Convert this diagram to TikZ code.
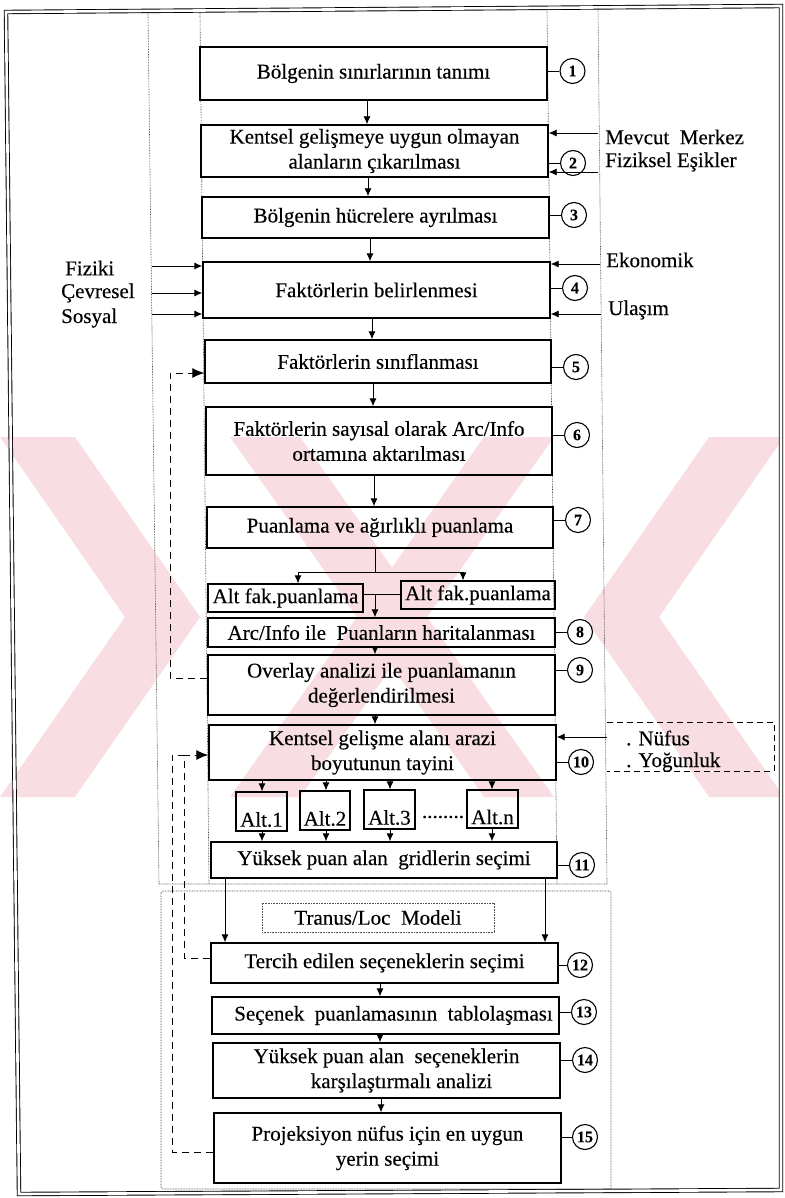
\documentclass[tikz,border=0pt]{standalone}
\usepackage{fontspec}
\setmainfont[FakeBold=0.3]{Liberation Serif}
\usetikzlibrary{arrows.meta}
\definecolor{wmark}{RGB}{248,222,226}
\newcommand\bodyfont{\fontsize{21}{25}\selectfont}
\newcommand\numfont{\fontsize{16}{16}\selectfont\bfseries}
\begin{document}
\begin{tikzpicture}[x=1pt,y=-1pt,
  stepbox/.style={draw, line width=1.4pt, inner sep=0pt, align=center, font=\bodyfont},
  altbox/.style={draw, line width=1.2pt, inner sep=0pt, minimum width=51pt, minimum height=39pt, font=\bodyfont},
  numc/.style={circle, draw, line width=1.1pt, minimum size=25pt, inner sep=0pt, font=\numfont},
  lbl/.style={inner sep=0pt, anchor=west, font=\bodyfont},
  arr/.style={line width=0.9pt, -{Latex[length=8pt,width=7pt]}},
  link/.style={line width=0.9pt},
  guide/.style={line width=0.6pt, black!70, dash pattern=on 0.8pt off 0.8pt},
  fback/.style={line width=1pt, dash pattern=on 7pt off 5pt},
  fbarrow/.style={-{Latex[length=12pt,width=10pt]}},
]
\useasboundingbox (0,0) rectangle (784,1198);
\fill[white] (0,0) rectangle (784,1198);

% faint background emblem
\fill[wmark] (0,437) -- (75,437) -- (200,617) -- (75,797) -- (0,797) -- (125,617) -- cycle;
\fill[wmark] (784,437) -- (709,437) -- (584,617) -- (709,797) -- (784,797) -- (659,617) -- cycle;
\fill[wmark] (230,437) -- (300,437) -- (554,797) -- (484,797) -- cycle;
\fill[wmark] (554,437) -- (484,437) -- (230,797) -- (300,797) -- cycle;

% page frame (double rule)
\draw[line width=0.9pt, double, double distance=2.6pt] (6,12) -- (781,6) -- (781,1190) -- (19,1194) -- cycle;

% dotted column guides of the upper part and the lower model frame
\draw[guide] (148,14) -- (159,884) -- (607,884) -- (598,8);
\draw[guide] (200,13) -- (209,884);
\draw[guide] (547,9) -- (557,884);
\draw[guide, rounded corners=2pt] (161,891) rectangle (611,1189);

% main steps
\node[stepbox, minimum width=347pt, minimum height=53pt] (b1) at (373.5,73.5) {Bölgenin sınırlarının tanımı};
\node[stepbox, minimum width=347pt, minimum height=52pt] (b2) at (374.5,151) {Kentsel gelişmeye uygun olmayan\\alanların çıkarılması};
\node[stepbox, minimum width=347pt, minimum height=41pt] (b3) at (375.5,217.5) {Bölgenin hücrelere ayrılması};
\node[stepbox, minimum width=347pt, minimum height=56pt] (b4) at (376.5,290) {Faktörlerin belirlenmesi};
\node[stepbox, minimum width=346pt, minimum height=43pt] (b5) at (378,361.5) {Faktörlerin sınıflanması};
\node[stepbox, minimum width=346pt, minimum height=68pt] (b6) at (379,441) {Faktörlerin sayısal olarak Arc/Info\\ortamına aktarılması};
\node[stepbox, minimum width=346pt, minimum height=41pt] (b7) at (380,527.5) {Puanlama ve ağırlıklı puanlama};
\node[stepbox, line width=1.2pt, minimum width=155pt, minimum height=28pt] (af1) at (285.5,598) {Alt fak.puanlama};
\node[stepbox, line width=1.2pt, minimum width=154pt, minimum height=28pt] (af2) at (478,595) {Alt fak.puanlama};
\node[stepbox, minimum width=347pt, minimum height=29pt] (b8) at (381.5,632.5) {Arc/Info ile~ Puanların haritalanması};
\node[stepbox, minimum width=347pt, minimum height=60pt] (b9) at (381.5,685) {Overlay analizi ile puanlamanın\\değerlendirilmesi};
\node[stepbox, minimum width=347pt, minimum height=55pt] (b10) at (382.5,752.5) {Kentsel gelişme alanı arazi\\boyutunun tayini};
\node[altbox] (a1) at (261.5,811.5) {\raisebox{-8pt}[\height][\depth]{Alt.1}};
\node[altbox, minimum width=50pt] (a2) at (325,810.5) {\raisebox{-8pt}[\height][\depth]{Alt.2}};
\node[altbox] (a3) at (389.5,809.5) {\raisebox{-8pt}[\height][\depth]{Alt.3}};
\node[altbox, minimum height=38pt] (an) at (492.5,809) {\raisebox{-8pt}[\height][\depth]{Alt.n}};
\node[inner sep=0pt, font=\bodyfont] (dots) at (443,817) {........};
\node[stepbox, minimum width=346pt, minimum height=36pt] (b11) at (384,860) {Yüksek puan alan~ gridlerin seçimi};
\node[draw, guide, inner sep=0pt, minimum width=232pt, minimum height=29pt, font=\bodyfont, text=black] (tr) at (378,917.5) {Tranus/Loc~ Modeli};
\node[stepbox, minimum width=347pt, minimum height=40pt] (b12) at (384.5,963) {Tercih edilen seçeneklerin seçimi};
\node[stepbox, minimum width=347pt, minimum height=37pt] (b13) at (385.5,1015.5) {\hspace*{16pt}Seçenek~ puanlamasının~ tablolaşması};
\node[stepbox, minimum width=347pt, minimum height=55pt] (b14) at (386.5,1070.5) {Yüksek puan alan~ seçeneklerin\\\hspace*{30pt}karşılaştırmalı analizi};
\node[stepbox, minimum width=347pt, minimum height=70pt] (b15) at (387.5,1148) {Projeksiyon nüfus için en uygun\\yerin seçimi};

% step numbers
\foreach \b/\x/\y/\t in {b1/572.5/71/1, b2/573/163/2, b3/574/215/3, b4/575/288/4, b5/576/367/5,
  b6/577/435/6, b7/578/520/7, b8/580/632/8, b9/580/670/9, b10/581/762/10, b11/582/865/11,
  b12/580/965/12, b13/584/1012/13, b14/585/1060/14, b15/585/1137/15} {
  \node[numc] (n\t) at (\x,\y) {\t};
  \draw[link] (n\t.west) -- (n\t.west -| \b.east);
}

% main flow
\draw[arr] (367,0 |- b1.south) -- (367,0 |- b2.north);
\draw[arr] (368,0 |- b2.south) -- (368,0 |- b3.north);
\draw[arr] (370,0 |- b3.south) -- (370,0 |- b4.north);
\draw[arr] (372,0 |- b4.south) -- (372,0 |- b5.north);
\draw[arr] (373,0 |- b5.south) -- (373,0 |- b6.north);
\draw[arr] (374,0 |- b6.south) -- (374,0 |- b7.north);
\coordinate (jc) at (375,572);
\coordinate (jl) at (298,572);
\coordinate (jr) at (463,572);
\draw[link] (375,0 |- b7.south) -- (jc);
\draw[link] (jl) -- (jr);
\draw[arr] (jl) -- (jl |- af1.north);
\draw[arr] (jr) -- (jr |- af2.north);
\coordinate (jm) at (375,594);
\draw[link] (af1.east |- jm) -- (af2.west |- jm);
\draw[arr] (jm) -- (jm |- b8.north);
\draw[arr] (375,0 |- b8.south) -- (375,0 |- b9.north);
\draw[arr] (375,0 |- b9.south) -- (375,0 |- b10.north);
\foreach \a/\x in {a1/262, a2/326, a3/390, an/492} {
  \draw[arr] (\x,0 |- b10.south) -- (\x,0 |- \a.north);
  \draw[arr] (\x,0 |- \a.south) -- (\x,0 |- b11.north);
}
\draw[arr] (225,0 |- b11.south) -- (225,0 |- b12.north);
\draw[arr] (545,0 |- b11.south) -- (545,0 |- b12.north);
\draw[arr] (380,0 |- b12.south) -- (380,0 |- b13.north);
\draw[arr] (380,0 |- b13.south) -- (380,0 |- b14.north);
\draw[arr] (381,0 |- b14.south) -- (381,0 |- b15.north);

% inputs from the right
\node[lbl] (mm) at (605,137) {Mevcut~ Merkez};
\node[lbl] (fe) at (605,162) {Fiziksel Eşikler};
\node[lbl] (ek) at (606,260) {Ekonomik};
\node[lbl] (ul) at (608,310) {Ulaşım};
\coordinate (imm) at (598,133);
\coordinate (ife) at (598,172);
\coordinate (iek) at (600,264);
\coordinate (iul) at (601,314);
\draw[arr] (imm) -- (b2.east |- imm);
\draw[arr] (ife) -- (b2.east |- ife);
\draw[arr] (iek) -- (b4.east |- iek);
\draw[arr] (iul) -- (b4.east |- iul);

% inputs from the left
\node[lbl] (fz) at (65,268) {Fiziki};
\node[lbl] (cv) at (61,293) {Çevresel};
\node[lbl] (ss) at (61,318) {Sosyal};
\coordinate (ifz) at (152,266);
\coordinate (icv) at (152,293);
\coordinate (iss) at (152,314);
\draw[arr] (ifz) -- (b4.west |- ifz);
\draw[arr] (icv) -- (b4.west |- icv);
\draw[arr] (iss) -- (b4.west |- iss);

% population input
\node[lbl] (nf) at (626,738) {. Nüfus};
\node[lbl] (yg) at (626,762) {. Yoğunluk};
\draw[fback, dash pattern=on 6pt off 4pt] (607,722) -- (774,722) -- (774,771) -- (607,771);
\coordinate (inf) at (607,737);
\draw[arr] (inf) -- (b10.east |- inf);

% feedback loops
\draw[fback, fbarrow] (b9.west |- 0,678) -- (170,678) -- (170,373) -- (b5.west |- 0,373);
\coordinate (fk) at (184,755);
\draw[fback, fbarrow] (b12.west |- 0,958) -- (184,958) -- (fk) -- (b10.west |- fk);
\draw[fback] (b15.west |- 0,1152) -- (172,1152) -- (172,755) -- (fk);
\end{tikzpicture}
\end{document}
